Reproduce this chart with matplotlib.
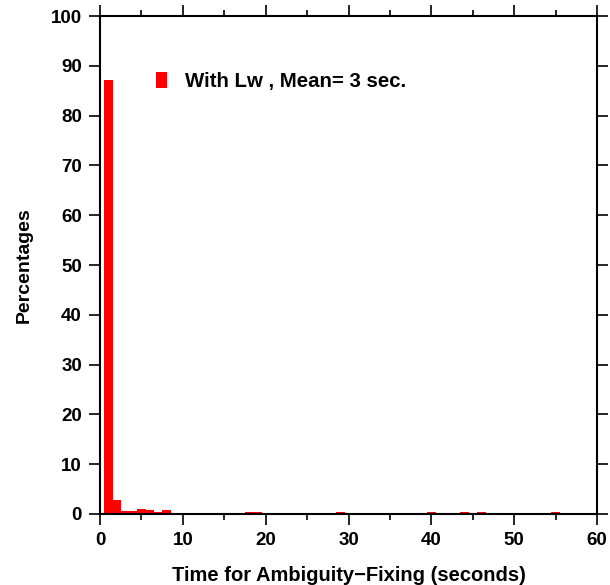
import matplotlib
matplotlib.use('Agg')
import matplotlib.pyplot as plt
from matplotlib.ticker import MultipleLocator

plt.rcParams['font.family'] = ['Liberation Sans', 'DejaVu Sans']
plt.rcParams['font.weight'] = 'bold'

# histogram of fixing times (bin centre in seconds, percentage)
secs = [1, 2, 3, 4, 5, 6, 7, 8, 9, 10, 11, 12, 18, 19, 20, 22, 23, 25, 26, 29, 40, 44, 46, 55]
pct = [87.2, 2.8, 0.5, 0.5, 0.9, 0.7, 0.3, 0.8, 0.2, 0.2, 0.2, 0.1,
       0.4, 0.3, 0.2, 0.2, 0.2, 0.2, 0.2, 0.4, 0.3, 0.3, 0.3, 0.3]
label = 'With Lw , Mean= 3 sec.'

fig = plt.figure(figsize=(6.1, 5.85), dpi=100)
ax = fig.add_axes([0.164, 0.1214, 0.815, 0.8512])
ax.bar(secs, pct, width=1.1, color='#ff0000', edgecolor='none', label=label)

ax.set_xlim(0, 60)
ax.set_ylim(0, 100)
ax.xaxis.set_major_locator(MultipleLocator(10))
ax.xaxis.set_minor_locator(MultipleLocator(5))
ax.yaxis.set_major_locator(MultipleLocator(10))
ax.tick_params(which='both', direction='out', top=True, right=True, width=1.2,
               labelsize=13.5, pad=5)
ax.tick_params(which='major', length=8)
ax.tick_params(which='minor', length=4)
ax.tick_params(axis='y', labelright=False)
for lab in ax.get_xticklabels() + ax.get_yticklabels():
    lab.set_fontweight('bold')
for s in ax.spines.values():
    s.set_linewidth(1.5)

ax.set_xlabel('Time for Ambiguity\u2212Fixing (seconds)', fontsize=14.5, fontweight='bold', labelpad=12)
ax.set_ylabel('Percentages', fontsize=14, fontweight='bold', labelpad=13)

ax.legend(loc='upper left', bbox_to_anchor=(0.075, 0.924), frameon=False,
          handlelength=0.55, handleheight=0.8, handletextpad=0.9, prop={'weight': 'bold', 'size': 14.7})

fig.savefig('out.png', dpi=100)
